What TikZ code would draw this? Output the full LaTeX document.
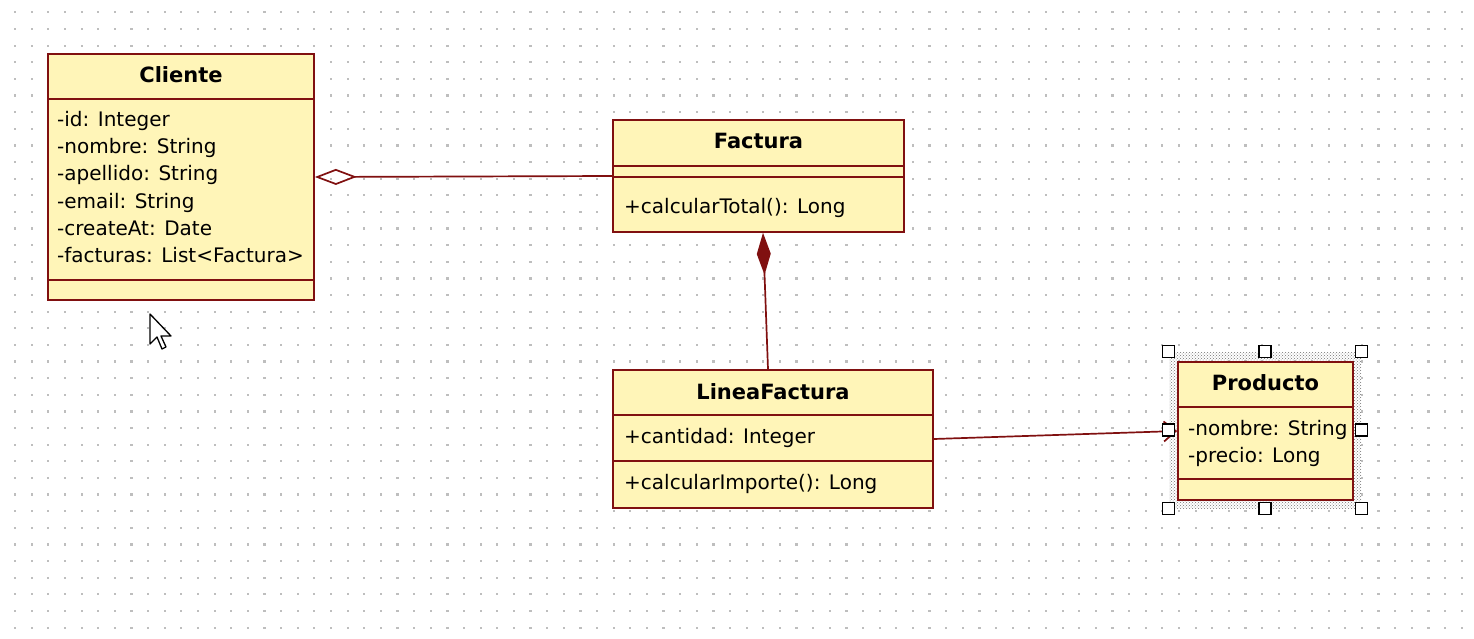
\documentclass[tikz,border=0pt]{standalone}
\usepackage{fontspec}
\setmainfont{DejaVu Sans}
\usepackage{tikz}
\usetikzlibrary{arrows.meta,patterns}
\definecolor{UML_fill}{RGB}{255, 245, 184}
\definecolor{UML_line}{RGB}{128, 16, 16}
\definecolor{Grid_dot}{RGB}{190, 190, 190}
\tikzset{
    class box/.style={draw=UML_line, fill=UML_fill, line width=1.7pt, inner sep=0pt},
    uml line/.style={UML_line, line width=1.7pt},
    class title/.style={font=\fontsize{21}{27}\bfseries\selectfont, anchor=base, inner sep=0pt},
    member/.style={font=\fontsize{20}{27}\selectfont, anchor=base west, inner sep=0pt},
    sel frame/.style={pattern=crosshatch dots, pattern color=black!55, inner sep=0pt},
    handle/.style={draw=black, fill=white, line width=1.3pt, minimum size=12pt, inner sep=0pt}
}

\begin{document}
\begin{tikzpicture}[x=1pt, y=-1pt]
    %% Background
    \fill[white] (0,0) rectangle (1474,639);
    \useasboundingbox (0,0) rectangle (1474,639);
    \foreach \i in {0,...,87}
        \foreach \j in {0,...,37}
            \fill[Grid_dot] (14+16.627*\i, 11.3+16.627*\j) rectangle ++(2.2,2.2);

    %% Selection of Producto
    \node[sel frame, minimum width=192pt, minimum height=156pt] (sel) at (1265,430) {};

    %% Classes
    % Cliente
    \node[class box, minimum width=266pt, minimum height=246pt] (cliente) at (181,177) {};
    \draw[uml line] (48,99) -- (314,99) (48,280) -- (314,280);
    \node[class title] (cliente-title) at (181,83) {Cliente};
    \foreach \attr [count=\i] in {-id: Integer, -nombre: String, -apellido: String,
        -email: String, -createAt: Date, -facturas: List<Factura>}
        \node[member] (cliente-attr-\i) at (57,100+27*\i) {\attr};

    % Factura
    \node[class box, minimum width=291pt, minimum height=112pt] (factura) at (758.5,176) {};
    \draw[uml line] (613,166) -- (904,166) (613,177) -- (904,177);
    \node[class title] (factura-title) at (758.5,149) {Factura};
    \node[member] (factura-op) at (624,213) {+calcularTotal(): Long};

    % LineaFactura
    \node[class box, minimum width=320pt, minimum height=138pt] (linea) at (773,439) {};
    \draw[uml line] (613,415) -- (933,415) (613,461) -- (933,461);
    \node[class title] (linea-title) at (773,399) {LineaFactura};
    \node[member] (linea-attr) at (624,443) {+cantidad: Integer};
    \node[member] (linea-op) at (624,489) {+calcularImporte(): Long};

    % Producto
    \node[class box, minimum width=175pt, minimum height=138pt] (producto) at (1265.5,431) {};
    \draw[uml line] (1178,407) -- (1353,407) (1178,479) -- (1353,479);
    \node[class title] (producto-title) at (1265.5,390) {Producto};
    \node[member] (producto-attr-1) at (1188,435) {-nombre: String};
    \node[member] (producto-attr-2) at (1188,462) {-precio: Long};

    %% Relations
    \draw[uml line, {Diamond[open, length=42pt, width=16pt]}-] (cliente.east) -- (factura.west);
    \draw[uml line, {Diamond[length=42pt, width=14pt]}-] ([xshift=4.5pt]factura.south) -- ([xshift=-5pt]linea.north);
    \draw[uml line, -{Straight Barb[length=12pt, width=20pt]}] (linea.east) -- (producto.west);

    %% Handles
    \foreach \a in {north west, north, north east, west, east, south west, south, south east}
        \node[handle] at (sel.\a) {};

    %% Mouse pointer
    \draw[black, fill=white, line width=1.3pt, line join=round]
    (150,314) -- ++(0,30) -- ++(7,-7) -- ++(5,12) -- ++(4,-2) -- ++(-5,-11) -- ++(10,0) -- cycle;
\end{tikzpicture}
\end{document}
